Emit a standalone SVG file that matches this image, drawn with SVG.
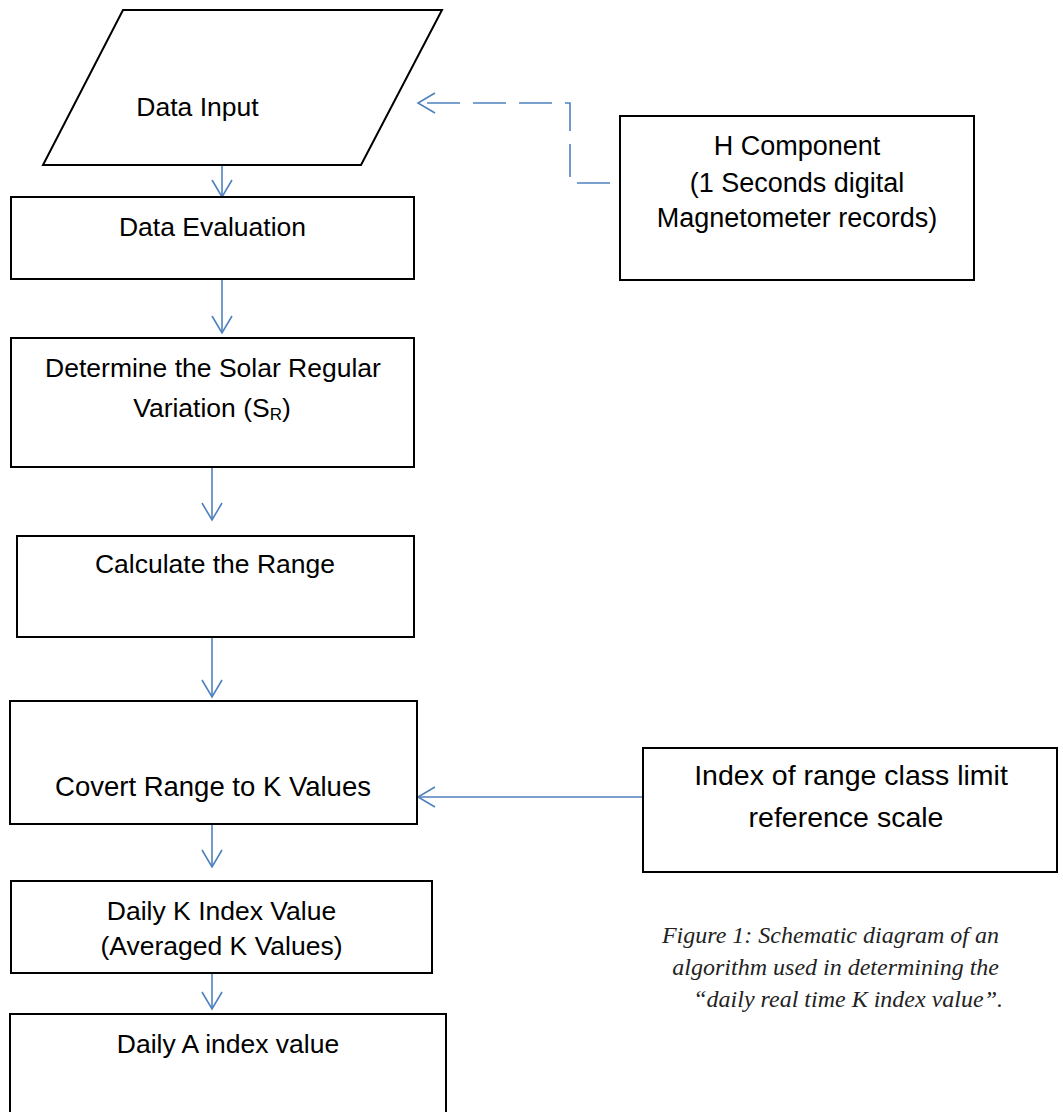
<svg xmlns="http://www.w3.org/2000/svg" width="1063" height="1112" viewBox="0 0 1063 1112">
<defs>
<style>
.box{fill:#ffffff;stroke:#000000;stroke-width:2}
.lbl{font-family:"Liberation Sans",Arial,sans-serif;font-size:26.5px;fill:#000000;text-anchor:middle}
.con{fill:none;stroke:#4F81BD;stroke-width:1.6}
.dash{stroke-dasharray:33 13}
.cap{font-family:"Liberation Serif","Times New Roman",serif;font-style:italic;font-size:24px;fill:#222222;text-anchor:end}
</style>
<marker id="arr" markerUnits="userSpaceOnUse" markerWidth="24" markerHeight="24" viewBox="-20 -12 24 24" refX="0" refY="0" orient="auto">
<path d="M-17,-10 L0,0 L-17,10" fill="none" stroke="#4F81BD" stroke-width="1.6"/>
</marker>
</defs>
<rect width="1063" height="1112" fill="#ffffff"/>

<g id="connectors">
<path class="con" d="M222,165 L222,197" marker-end="url(#arr)"/>
<path class="con" d="M222,280 L222,333" marker-end="url(#arr)"/>
<path class="con" d="M212,467 L212,520" marker-end="url(#arr)"/>
<path class="con" d="M212,637 L212,697" marker-end="url(#arr)"/>
<path class="con" d="M212,824 L212,867" marker-end="url(#arr)"/>
<path class="con" d="M212,973 L212,1009" marker-end="url(#arr)"/>
<path class="con" d="M643,797 L418,797" marker-end="url(#arr)"/>
<path class="con dash" d="M610,183 L570,183 L570,103 L419,103"/>
<path class="con" d="M435,93 L418,103 L435,113"/>
</g>

<g id="data-input">
<polygon class="box" points="123,10 442,10 361,165 43,165"/>
<text class="lbl" x="197.5" y="116">Data Input</text>
</g>

<g id="data-evaluation">
<rect class="box" x="11" y="197" width="403" height="82"/>
<text class="lbl" x="212.5" y="236">Data Evaluation</text>
</g>

<g id="h-component">
<rect class="box" x="620" y="116" width="354" height="164"/>
<text class="lbl" x="797" y="155" style="font-size:27px">H Component</text>
<text class="lbl" x="797" y="192" style="font-size:27px">(1 Seconds digital</text>
<text class="lbl" x="797" y="227" style="font-size:27px">Magnetometer records)</text>
</g>

<g id="solar-regular">
<rect class="box" x="11" y="338" width="403" height="129"/>
<text class="lbl" x="213" y="377">Determine the Solar Regular</text>
<text class="lbl" x="212" y="417">Variation (S<tspan style="font-size:17px" dy="3">R</tspan><tspan dy="-3">)</tspan></text>
</g>

<g id="calculate-range">
<rect class="box" x="17" y="536" width="397" height="101"/>
<text class="lbl" x="215" y="573">Calculate the Range</text>
</g>

<g id="convert-range">
<rect class="box" x="10" y="701" width="407" height="123"/>
<text class="lbl" x="213" y="796" style="font-size:27.5px">Covert Range to K Values</text>
</g>

<g id="index-range">
<rect class="box" x="643" y="748" width="414" height="124"/>
<text class="lbl" x="851" y="785" style="font-size:28.5px">Index of range class limit</text>
<text class="lbl" x="846" y="827" style="font-size:28.5px">reference scale</text>
</g>

<g id="daily-k">
<rect class="box" x="11" y="881" width="421" height="92"/>
<text class="lbl" x="221.5" y="920">Daily K Index Value</text>
<text class="lbl" x="221.5" y="955">(Averaged K Values)</text>
</g>

<g id="daily-a">
<rect class="box" x="10" y="1014" width="436" height="104"/>
<text class="lbl" x="228" y="1053">Daily A index value</text>
</g>

<g id="caption">
<text class="cap" x="999" y="943">Figure 1: Schematic diagram of an</text>
<text class="cap" x="999" y="975">algorithm used in determining the</text>
<text class="cap" x="1003" y="1007">“daily real time K index value”.</text>
</g>
</svg>
